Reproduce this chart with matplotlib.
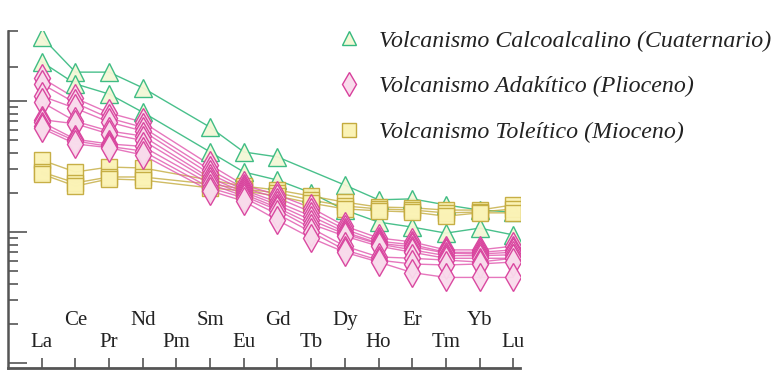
import numpy as np
import matplotlib
matplotlib.use("Agg")
import matplotlib.pyplot as plt
from matplotlib.lines import Line2D
from matplotlib.ticker import FixedLocator, NullFormatter

plt.rcParams['font.family'] = ['Liberation Serif', 'DejaVu Serif']

# REE normalised to chondrite (Pm not analysed)
elements = ['La', 'Ce', 'Pr', 'Nd', 'Pm', 'Sm', 'Eu', 'Gd',
            'Tb', 'Dy', 'Ho', 'Er', 'Tm', 'Yb', 'Lu']

# Volcanismo calcoalcalino (Cuaternario)
calc_1 = [308, 166, 166, 126, None, 63, 40.8, 37.4, None, 22.8, 17.6, 17.9, 16.1, 14.7, 14.2]
calc_2 = [199, 135, 113, 82, None, 40.8, 28.7, 24.9, 19.9, 14.7, 11.9, 10.9, 9.8, 10.7, 9.5]

# Volcanismo adakitico (Plioceno)
adak_1 = [150, 105, 81, 69, None, 32.5, 22.8, 19.2, 15.3, 11.1, 9.0, 8.4, 7.3, 7.3, 7.8]
adak_2 = [135, 96.5, 74, 63, None, 29.7, 21.7, 18.2, 14.2, 10.5, 8.5, 8.0, 7.0, 7.0, 7.3]
adak_3 = [109, 88, 69, 59, None, 27.7, 20.9, 16.9, 13.2, 10.0, 8.2, 7.7, 6.9, 6.8, 7.0]
adak_4 = [98, 70, 59, 54, None, 25.8, 20.2, 16.1, 12.3, 9.65, 8.1, 7.3, 6.6, 6.6, 6.7]
adak_5 = [72, 67, 56, 50, None, 24.5, 19.5, 15.3, 11.5, 9.3, 7.8, 7.0, 6.3, 6.3, 6.3]
adak_6 = [69, 51, 47, 45, None, 23.2, 18.8, 14.7, 10.7, 7.8, 6.45, 6.3, 6.1, 5.9, 6.3]
adak_7 = [64.5, 49.5, 45, 41.5, None, 21.7, 18.2, 13.7, 10.0, 7.3, 6.1, 5.7, 5.6, 5.7, 5.9]
adak_8 = [62, 47, 44, 38.7, None, 20.6, 17.2, 12.3, 9.0, 7.0, 5.9, 4.9, 4.5, 4.5, 4.5]

# Volcanismo toleitico (Mioceno)
tol_1 = [35.4, 28.7, 31.3, 30.8, None, 24.9, 22.4, 20.9, 18.8, 16.9, 15.5, 15.3, 14.7, 14.7, 16.1]
tol_2 = [28.7, 23.7, 26.3, 26.3, None, 23.2, 21.3, 19.9, 17.5, 15.8, 15.0, 14.7, 14.0, 14.2, 15.0]
tol_3 = [27.7, 22.4, 25.4, 24.9, None, 21.7, 20.6, 18.8, 16.6, 15.0, 14.5, 14.2, 13.2, 14.0, 14.0]

calc_series = [calc_1, calc_2]
adak_series = [adak_1, adak_2, adak_3, adak_4, adak_5, adak_6, adak_7, adak_8]
tol_series = [tol_1, tol_2, tol_3]

labels = ['Volcanismo Calcoalcalino (Cuaternario)',
          'Volcanismo Adakítico (Plioceno)',
          'Volcanismo Toleítico (Mioceno)']

GREEN, GREEN_FACE = '#35b97f', '#f4f7d6'
PINK, PINK_FACE = '#d8409c', '#f9dcec'
OLIVE, OLIVE_FACE = '#c4ab3e', '#fbf3b6'
AXIS = '#555555'


def draw_series(ax, values, marker, size, edge, face, line_color, alpha):
    # skip missing elements so the line joins across them
    xs = [i for i, v in enumerate(values) if v is not None]
    ys = [values[i] for i in xs]
    ax.plot(xs, ys, color=line_color, lw=1.0, alpha=alpha, zorder=2)
    ax.plot(xs, ys, ls='none', marker=marker, ms=size, mfc=face, mec=edge,
            mew=1.0, alpha=0.95, zorder=3)


fig = plt.figure(figsize=(7.8, 3.89), dpi=100)
ax = fig.add_axes([8 / 780, 21 / 389, 512 / 780, 337 / 389])

for s in calc_series:
    draw_series(ax, s, '^', 12.5, GREEN, GREEN_FACE, GREEN, 0.9)
for s in tol_series:
    draw_series(ax, s, 's', 11.5, OLIVE, OLIVE_FACE, OLIVE, 0.8)
for s in adak_series:
    draw_series(ax, s, 'd', 14, PINK, PINK_FACE, '#e055ad', 0.8)

ax.set_yscale('log')
ax.set_ylim(0.916, 342)
ax.set_xlim(-1.0, 14.2)

# log ticks drawn inward, no numbers
ax.yaxis.set_major_locator(FixedLocator([1, 10, 100]))
minor = [m * d for d in (1, 10) for m in range(2, 10)] + [182, 342]
ax.yaxis.set_minor_locator(FixedLocator(minor))
ax.yaxis.set_major_formatter(NullFormatter())
ax.yaxis.set_minor_formatter(NullFormatter())
ax.tick_params(axis='y', which='major', direction='in', length=14, width=1.2, color=AXIS)
ax.tick_params(axis='y', which='minor', direction='in', length=7, width=1.2, color=AXIS)

ax.set_xticks(range(len(elements)))
ax.set_xticklabels([])
ax.tick_params(axis='x', which='both', direction='in', length=7, width=1.2, color=AXIS)
ax.xaxis.set_minor_locator(FixedLocator([]))

for i, el in enumerate(elements):
    ypos = 0.077 if i % 2 == 0 else 0.142
    ax.text(i, ypos, el, transform=ax.get_xaxis_transform(), ha='center',
            va='center', fontsize=15, color='#222222')

for side in ('top', 'right'):
    ax.spines[side].set_visible(False)
ax.spines['left'].set_color(AXIS)
ax.spines['left'].set_linewidth(1.8)
ax.spines['bottom'].set_color(AXIS)
ax.spines['bottom'].set_linewidth(2.0)

handles = [
    Line2D([], [], ls='none', marker='^', ms=10.5, mfc=GREEN_FACE, mec=GREEN, mew=1.0),
    Line2D([], [], ls='none', marker='d', ms=12, mfc=PINK_FACE, mec=PINK, mew=1.0),
    Line2D([], [], ls='none', marker='s', ms=10, mfc=OLIVE_FACE, mec=OLIVE, mew=1.0),
]
fig.legend(handles, labels, loc='upper left', bbox_to_anchor=(338 / 780, 1 - 30 / 389),
           frameon=False, prop={'style': 'italic', 'size': 17.2},
           handlelength=0.95, handletextpad=0.75, labelspacing=1.0,
           borderpad=0, borderaxespad=0, numpoints=1, labelcolor='#222222')

fig.savefig('out.png', dpi=100)
